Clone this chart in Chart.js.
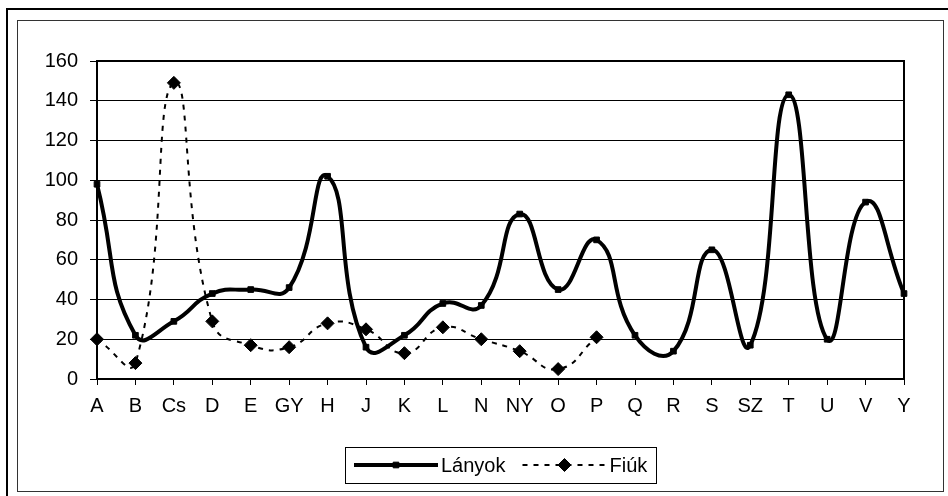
<!DOCTYPE html>
<html>
<head>
<meta charset="utf-8">
<script src="https://cdn.jsdelivr.net/npm/chart.js@4/dist/chart.umd.min.js"></script>
<style>
	html, body { margin: 0; padding: 0; background: #fff; }
	#wrap { position: relative; width: 948px; height: 496px; overflow: hidden; }
	#outer { position: absolute; left: 6px; top: 8px; width: 960px; height: 500px; border: 2px solid #000; box-sizing: border-box; }
	#inner { position: absolute; left: 17px; top: 20px; width: 927px; height: 472px; border: 1px solid #333; box-sizing: border-box; }
	#c { position: absolute; left: 0; top: 0; }
</style>
</head>
<body>
<div id="wrap">
	<div id="outer"></div>
	<div id="inner"></div>
	<canvas id="c" width="948" height="496"></canvas>
</div>
<script>
// data
const labels = ["A", "B", "Cs", "D", "E", "GY", "H", "J", "K", "L", "N", "NY", "O", "P", "Q", "R", "S", "SZ", "T", "U", "V", "Y"];
const lanyok = [98, 22, 29, 43, 45, 46, 102, 16, 22, 38, 37, 83, 45, 70, 22, 14, 65, 17, 143, 20, 89, 43];
const fiuk = [20, 8, 149, 29, 17, 16, 28, 25, 13, 26, 20, 14, 5, 21, null, null, null, null, null, null, null, null];
const seriesNames = ["Lányok", "Fiúk"];
const yTicks = { min: 0, max: 160, step: 20 };

const FONT = { family: "Arial, 'Liberation Sans', sans-serif", size: 20 };

// black frame round the plot area
const plotBorder = {
	id: "plotBorder",
	beforeDatasetsDraw(chart) {
		const { ctx, chartArea: a } = chart;
		ctx.save();
		ctx.strokeStyle = "#000";
		ctx.lineWidth = 2;
		ctx.strokeRect(a.left, a.top, a.right - a.left, a.bottom - a.top);
		ctx.restore();
	},
};

// excel style legend: line sample with marker, boxed
const legendBox = {
	id: "legendBox",
	afterDraw(chart, args, opts) {
		const ctx = chart.ctx;
		const ds = chart.data.datasets;
		const sample = 84, gap = 3, itemGap = 17, pad = 9;
		ctx.save();
		ctx.font = `${FONT.size}px ${FONT.family}`;
		const widths = ds.map((d) => ctx.measureText(d.label).width);
		let total = pad * 2 + itemGap * (ds.length - 1);
		widths.forEach((w) => (total += sample + gap + w));
		const cx = (chart.chartArea.left + chart.chartArea.right) / 2;
		const left = Math.round(cx - total / 2);
		const top = opts.top, h = opts.height;
		const cy = top + h / 2;
		ctx.strokeStyle = "#000";
		ctx.lineWidth = 1;
		ctx.strokeRect(left + 0.5, top + 0.5, Math.round(total), h);
		let x = left + pad;
		ds.forEach((d, i) => {
			ctx.save();
			ctx.strokeStyle = d.borderColor;
			ctx.lineWidth = d.borderWidth;
			ctx.setLineDash(d.borderDash || []);
			ctx.beginPath();
			ctx.moveTo(x, cy);
			ctx.lineTo(x + sample, cy);
			ctx.stroke();
			ctx.restore();
			ctx.fillStyle = d.pointBackgroundColor;
			ctx.strokeStyle = d.pointBorderColor;
			Chart.helpers.drawPoint(ctx, { pointStyle: d.pointStyle, radius: d.pointRadius, rotation: 0, borderWidth: 1 }, x + sample / 2, cy);
			ctx.fillStyle = "#000";
			ctx.textBaseline = "middle";
			ctx.textAlign = "left";
			ctx.fillText(d.label, x + sample + gap, cy + 1);
			x += sample + gap + widths[i] + itemGap;
		});
		ctx.restore();
	},
};

new Chart(document.getElementById("c"), {
	type: "line",
	data: {
		labels: labels,
		datasets: [
			{
				label: seriesNames[0],
				data: lanyok,
				borderColor: "#000",
				borderWidth: 4,
				tension: 0.5,
				pointStyle: "rect",
				pointRadius: 4,
				pointBackgroundColor: "#000",
				pointBorderColor: "#000",
				pointBorderWidth: 1,
			},
			{
				label: seriesNames[1],
				data: fiuk,
				borderColor: "#000",
				borderWidth: 2,
				borderDash: [5, 6],
				tension: 0.5,
				pointStyle: "rectRot",
				pointRadius: 6.5,
				pointBackgroundColor: "#000",
				pointBorderColor: "#000",
				pointBorderWidth: 1,
			},
		],
	},
	options: {
		responsive: false,
		animation: false,
		events: [],
		layout: { padding: { left: 0, right: 44, top: 61, bottom: 0 } },
		plugins: {
			legend: { display: false },
			tooltip: { enabled: false },
			legendBox: { top: 447, height: 36 },
		},
		scales: {
			x: {
				offset: false,
				afterFit: (scale) => {
					scale.height = 117;
				},
				grid: { drawOnChartArea: false, drawTicks: true, tickLength: 6, color: "#000", lineWidth: 1 },
				border: { color: "#000", width: 2 },
				ticks: { color: "#000", font: FONT, padding: 9, maxRotation: 0, autoSkip: false },
			},
			y: {
				min: yTicks.min,
				max: yTicks.max,
				afterFit: (scale) => {
					scale.width = 97;
				},
				grid: { color: "#000", lineWidth: 1, tickLength: 7 },
				border: { color: "#000", width: 2 },
				ticks: { stepSize: yTicks.step, color: "#000", font: FONT, padding: 12 },
			},
		},
	},
	plugins: [plotBorder, legendBox],
});
</script>
</body>
</html>
